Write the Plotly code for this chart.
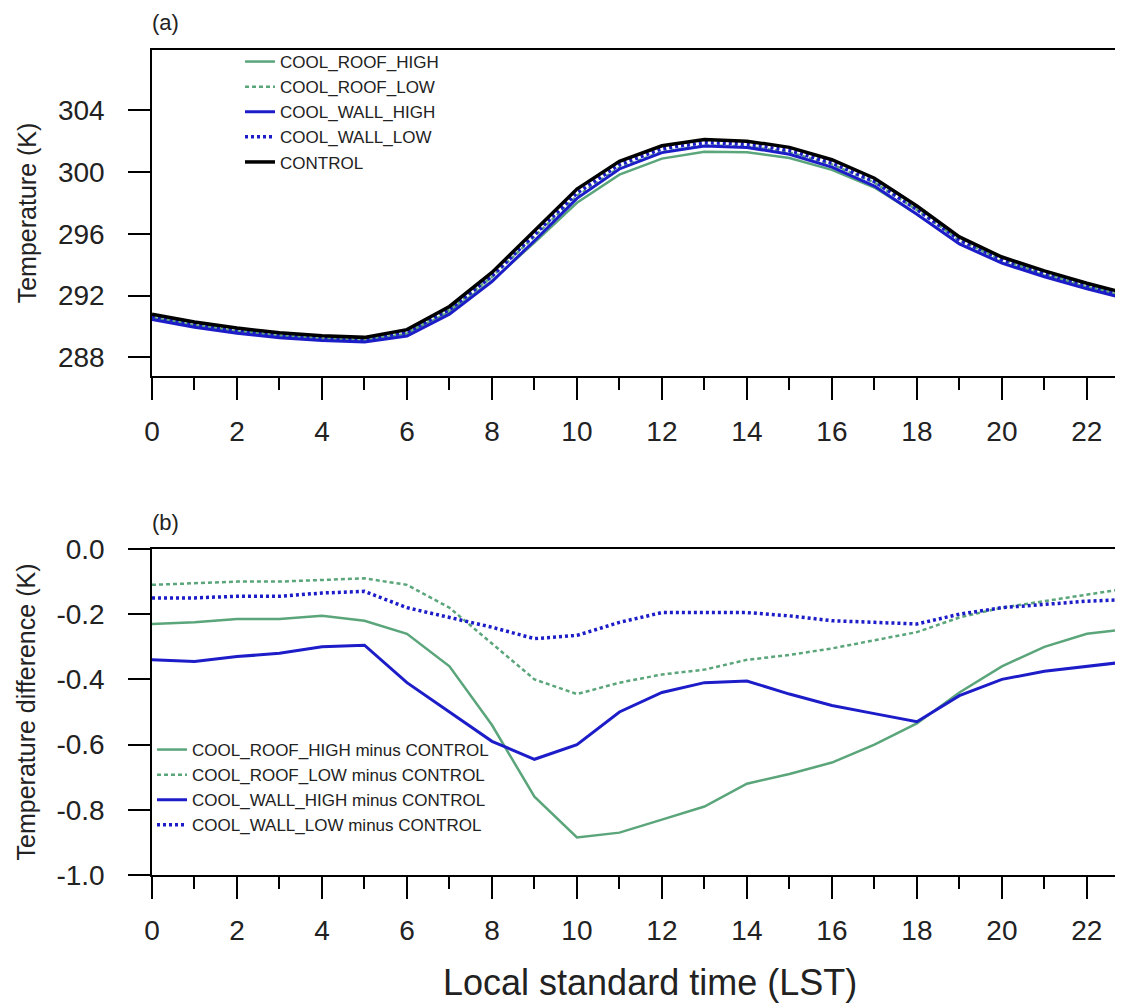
import plotly.graph_objects as go

hours = list(range(24))

control = [290.8, 290.3, 289.9, 289.6, 289.4, 289.3, 289.8, 291.3, 293.5, 296.2, 298.9, 300.7,
           301.7, 302.1, 302.0, 301.6, 300.8, 299.6, 297.8, 295.8, 294.5, 293.6, 292.8, 292.1]

roof_high_diff = [-0.23, -0.225, -0.215, -0.215, -0.205, -0.22, -0.26, -0.36, -0.54, -0.76, -0.885, -0.87,
                  -0.83, -0.79, -0.72, -0.69, -0.655, -0.6, -0.535, -0.44, -0.36, -0.3, -0.26, -0.245]
roof_low_diff = [-0.11, -0.105, -0.1, -0.1, -0.095, -0.09, -0.11, -0.18, -0.29, -0.4, -0.445, -0.41,
                 -0.385, -0.37, -0.34, -0.325, -0.305, -0.28, -0.255, -0.21, -0.18, -0.16, -0.14, -0.12]
wall_high_diff = [-0.34, -0.345, -0.33, -0.32, -0.3, -0.295, -0.41, -0.5, -0.59, -0.645, -0.6, -0.5,
                  -0.44, -0.41, -0.405, -0.445, -0.48, -0.505, -0.53, -0.45, -0.4, -0.375, -0.36, -0.345]
wall_low_diff = [-0.15, -0.15, -0.145, -0.145, -0.135, -0.13, -0.18, -0.21, -0.24, -0.275, -0.265, -0.225,
                 -0.195, -0.195, -0.195, -0.205, -0.22, -0.225, -0.23, -0.2, -0.18, -0.17, -0.16, -0.155]

temp_ticks = [288, 292, 296, 300, 304]
diff_ticks = [-1.0, -0.8, -0.6, -0.4, -0.2, 0.0]
diff_labels = ['-1.0', '-0.8', '-0.6', '-0.4', '-0.2', '0.0']

names = ['COOL_ROOF_HIGH', 'COOL_ROOF_LOW', 'COOL_WALL_HIGH', 'COOL_WALL_LOW']
diffs = [roof_high_diff, roof_low_diff, wall_high_diff, wall_low_diff]
green = '#5aa57a'
blue = '#1c1cc8'
styles = [(green, 'solid', 2.5), (green, '4px,3px', 2.5), (blue, 'solid', 3), (blue, '3px,3px', 3.5)]

fig = go.Figure()

# panel (a): absolute temperatures
for n, d, (c, dash, w) in zip(names, diffs, styles):
    fig.add_trace(go.Scatter(x=hours, y=[t + v for t, v in zip(control, d)], mode='lines', name=n,
                             line=dict(color=c, dash=dash, width=w), xaxis='x', yaxis='y', legend='legend'))
fig.add_trace(go.Scatter(x=hours, y=control, mode='lines', name='CONTROL',
                         line=dict(color='black', width=3.5), xaxis='x', yaxis='y', legend='legend'))

# panel (b): differences
for n, d, (c, dash, w) in zip(names, diffs, styles):
    fig.add_trace(go.Scatter(x=hours, y=d, mode='lines', name=n + ' minus CONTROL',
                             line=dict(color=c, dash=dash, width=w), xaxis='x2', yaxis='y2', legend='legend2'))

font = 'Liberation Sans, Arial, sans-serif'
# page has an 8px body margin, so everything is shifted by 8px
H = 825  # plot height in px between margins
axis_common = dict(showline=True, linecolor='black', linewidth=1.5, mirror=True, ticks='outside',
                   ticklen=22, tickwidth=1.5, tickcolor='black', showgrid=False, zeroline=False,
                   automargin=False, ticklabelstandoff=18, tickfont=dict(size=28, color='#222'))
xax = dict(axis_common, range=[0, 22.85], tick0=0, dtick=2, ticklabelstandoff=8,
           minor=dict(dtick=1, ticks='outside', ticklen=12, tickwidth=1.5, tickcolor='black'))

fig.update_layout(
    width=1115, height=999, margin=dict(l=144, r=0, t=42, b=132),
    paper_bgcolor='white', plot_bgcolor='white', font=dict(family=font, color='#222'),
    xaxis=dict(xax, anchor='y'),
    yaxis=dict(axis_common, domain=[(875 - 376) / H, 1], range=[286.8, 307.9],
               tickvals=temp_ticks, anchor='x',
               title=dict(text='Temperature (K)', font=dict(size=25), standoff=14)),
    xaxis2=dict(xax, anchor='y2'),
    yaxis2=dict(axis_common, domain=[0, (875 - 549) / H], range=[-1, 0],
                tickvals=diff_ticks, ticktext=diff_labels, anchor='x2',
                title=dict(text='Temperature difference (K)', font=dict(size=25), standoff=14)),
    legend=dict(x=88 / 971, y=1 + 6 / H, xanchor='left', yanchor='top', bgcolor='rgba(0,0,0,0)',
                font=dict(size=17), itemwidth=30, tracegroupgap=0),
    legend2=dict(x=0, y=1 - 682 / H, xanchor='left', yanchor='top', bgcolor='rgba(0,0,0,0)',
                 font=dict(size=17), itemwidth=30, tracegroupgap=0),
    annotations=[
        dict(text='(a)', x=-2 / 971, y=1 + 28 / H, xref='paper', yref='paper', showarrow=False,
             xanchor='left', yanchor='middle', font=dict(size=22)),
        dict(text='(b)', x=-2 / 971, y=(875 - 522) / H, xref='paper', yref='paper', showarrow=False,
             xanchor='left', yanchor='middle', font=dict(size=22)),
        dict(text='Local standard time (LST)', x=0.513, y=-107 / H, xref='paper', yref='paper',
             showarrow=False, xanchor='center', yanchor='middle', font=dict(size=36)),
    ],
)

fig.write_html('out.html')
